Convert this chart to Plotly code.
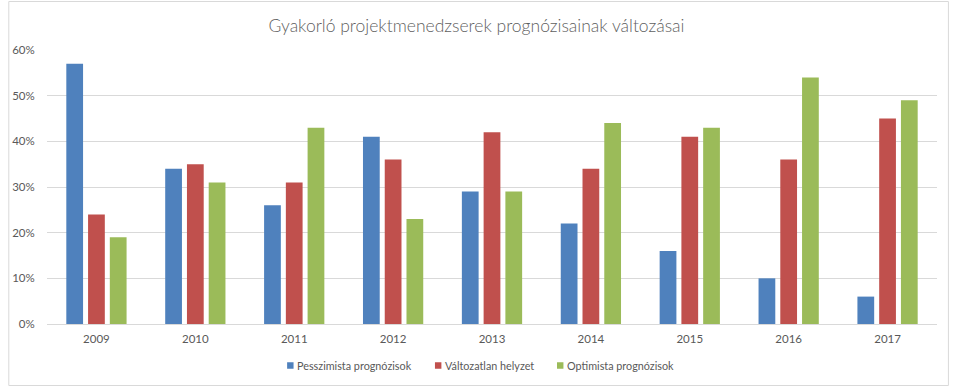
import plotly.graph_objects as go

years = ["2009", "2010", "2011", "2012", "2013", "2014", "2015", "2016", "2017"]
pesszimista = [57, 34, 26, 41, 29, 22, 16, 10, 6]
valtozatlan = [24, 35, 31, 36, 42, 34, 41, 36, 45]
optimista = [19, 31, 43, 23, 29, 44, 43, 54, 49]
series_names = ["Pesszimista prognózisok", "Változatlan helyzet", "Optimista prognózisok"]
colors = ["#4F81BD", "#C0504D", "#9BBB59"]
title = "Gyakorló projektmenedzserek prognózisainak változásai"

W, H = 953, 388
ml, mr, mt, mb = 40, 16, 50, 64
FONT = "Lato, Liberation Sans, Arial, sans-serif"
GREY = "#595959"

fig = go.Figure()
for name, vals, col in zip(series_names, [pesszimista, valtozatlan, optimista], colors):
    fig.add_trace(go.Bar(x=years, y=[v / 100 for v in vals], name=name,
                         marker=dict(color=col, line=dict(width=0)), showlegend=False))

pw = W - ml - mr
ph = H - mt - mb
def px2paper_x(px):
    return (px - ml) / pw
def px2paper_y(py):
    return (H - mb - py) / ph

shapes = [dict(type="rect", xref="paper", yref="paper",
               x0=px2paper_x(1.5), x1=px2paper_x(948.5),
               y0=px2paper_y(385.5), y1=px2paper_y(1.5),
               line=dict(color="#D9D9D9", width=1), fillcolor="rgba(0,0,0,0)",
               layer="below")]
annotations = []
legend_sq_x = [282, 431, 554]
legend_y = 365.5
for name, col, sx in zip(series_names, colors, legend_sq_x):
    shapes.append(dict(type="rect", xref="paper", yref="paper",
                       x0=px2paper_x(sx), x1=px2paper_x(sx + 6.5),
                       y0=px2paper_y(legend_y + 3.25), y1=px2paper_y(legend_y - 3.25),
                       line=dict(width=0), fillcolor=col))
    annotations.append(dict(text=name, xref="paper", yref="paper",
                            x=px2paper_x(sx + 8), y=px2paper_y(legend_y),
                            xanchor="left", yanchor="middle", showarrow=False,
                            font=dict(family=FONT, size=10.8, color=GREY)))

fig.update_layout(
    width=W, height=H,
    margin=dict(l=ml, r=mr, t=mt, b=mb),
    paper_bgcolor="white", plot_bgcolor="white",
    font=dict(family=FONT, size=11, color=GREY),
    title=dict(text=title, x=476.5 / W, xanchor="center", y=1 - 26 / H, yanchor="middle",
               font=dict(family=FONT, size=17.5, color="#5f5f5f", weight=300)),
    barmode="group", bargap=0.34, bargroupgap=0.23,
    showlegend=False,
    xaxis=dict(showgrid=False, showline=True, linecolor="#D9D9D9", linewidth=1,
               ticks="outside", ticklen=4, tickcolor="rgba(0,0,0,0)",
               tickfont=dict(family=FONT, size=11.5, color=GREY)),
    yaxis=dict(range=[0, 0.6], dtick=0.1, tickformat=".0%", showgrid=True,
               gridcolor="#D9D9D9", gridwidth=1, zeroline=False, showline=False,
               ticks="outside", ticklen=9, tickcolor="rgba(0,0,0,0)",
               tickfont=dict(family=FONT, size=11.5, color=GREY)),
    shapes=shapes,
    annotations=annotations,
)

fig.write_html("out.html", config={"displayModeBar": False},
               post_script="document.body.style.margin='0';document.body.style.padding='0';")
